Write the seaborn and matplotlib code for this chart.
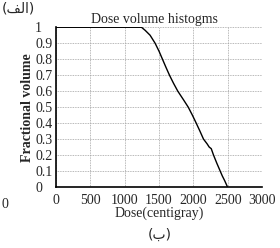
import matplotlib
matplotlib.use("Agg")
from matplotlib import pyplot as plt
import seaborn as sns

# curva DVH
dose = [0, 1245, 1300, 1370, 1443, 1500, 1550, 1600, 1652, 1710, 1773, 1850,
        1925, 1985, 2041, 2095, 2147, 2200, 2230, 2260, 2293, 2340, 2390,
        2420, 2455, 2497]
volume = [1, 1, 0.98, 0.95, 0.90, 0.85, 0.80, 0.75, 0.70, 0.65, 0.60, 0.55,
          0.50, 0.45, 0.40, 0.35, 0.30, 0.27, 0.25, 0.24, 0.20, 0.15, 0.10,
          0.07, 0.04, 0]

x_ticks = [0, 500, 1000, 1500, 2000, 2500, 3000]
y_ticks = [0, 0.1, 0.2, 0.3, 0.4, 0.5, 0.6, 0.7, 0.8, 0.9, 1]
y_tick_labels = ['0', '0.1', '0.2', '0.3', '0.4', '0.5', '0.6', '0.7', '0.8', '0.9', '1']

sns.set_style('white')
plt.rcParams['font.family'] = ['Liberation Serif', 'DejaVu Serif']
fs = 10

fig = plt.figure(figsize=(2.8, 2.48), dpi=100)
ax = fig.add_axes([0.2, 0.246, 0.736, 0.644])

sns.lineplot(x=dose, y=volume, color='black', linewidth=1.0, ax=ax)

ax.set_xlim(0, 3000)
ax.set_ylim(0, 1)
ax.set_xticks(x_ticks)
ax.set_xticklabels([str(t) for t in x_ticks], fontsize=fs)
ax.set_yticks(y_ticks)
ax.set_yticklabels(y_tick_labels, fontsize=fs, ha='left')
ax.tick_params(axis='x', length=0, pad=5)
ax.tick_params(axis='y', length=0, pad=15)
ax.grid(True, color='#a0a0a0', linestyle=(0, (1, 1)), linewidth=0.6)

for s in ['top', 'right']:
    ax.spines[s].set_visible(False)
for s in ['left', 'bottom']:
    ax.spines[s].set_color('black')
    ax.spines[s].set_linewidth(1.2)

ax.set_title('Dose volume histogms', fontsize=fs, pad=3, x=0.476)
ax.set_xlabel('Dose(centigray)', fontsize=fs, labelpad=0)
ax.set_ylabel('Fractional volume', fontsize=fs, labelpad=1, fontweight='bold')

# etiquetas de la figura original
fig.text(0.005, 0.964, '(\uFED2\uFEDF\uFE8D)', fontsize=fs, ha='left', va='center',
         family=['DejaVu Sans'])
fig.text(0.57, 0.052, '(\uFE8F)', fontsize=fs, ha='center', va='center',
         family=['DejaVu Sans'])
fig.text(0.004, 0.177, '0', fontsize=fs, ha='left', va='center')

fig.savefig('out.png', dpi=100)
